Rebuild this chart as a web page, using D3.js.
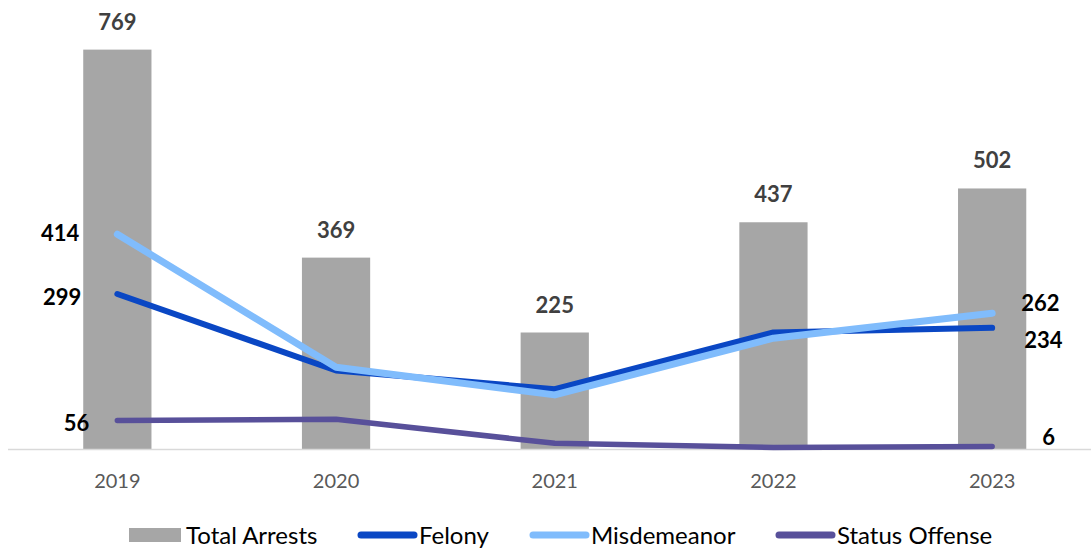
<!DOCTYPE html>
<html>
<head>
<meta charset="utf-8">
<script src="https://cdn.jsdelivr.net/npm/d3@7"></script>
<style>
  body { margin: 0; background: #fff; }
  svg { display: block; font-family: Lato, "Open Sans", sans-serif; }
</style>
</head>
<body>
<svg id="chart" width="1091" height="548"></svg>
<script>
// --- DATA ---
const years = ["2019", "2020", "2021", "2022", "2023"];
const totalArrests = [769, 369, 225, 437, 502];
const felony = [299, 152, 116, 225, 234];
const misdemeanor = [414, 158, 105, 214, 262];
const statusOffense = [56, 58, 12, 4, 6];

// --- CONFIG ---
const W = 1091, H = 548;
const BASE_Y = 449.5;
const COLORS = {
  bar: "#a6a6a6",
  felony: "#0a47c4",
  misd: "#80bcfc",
  status: "#58509a"
};

const svg = d3.select("#chart");

const x = d3.scaleBand().domain(years).range([8, 1101.5])
  .paddingInner(0.688).paddingOuter(0.344);
const y = d3.scaleLinear().domain([0, 800]).range([BASE_Y, BASE_Y - 416]);
const cx = yr => x(yr) + x.bandwidth() / 2;

// bars
svg.append("g").selectAll("rect").data(years).join("rect")
  .attr("x", d => x(d))
  .attr("y", (d, i) => y(totalArrests[i]))
  .attr("width", x.bandwidth())
  .attr("height", (d, i) => BASE_Y - y(totalArrests[i]))
  .attr("fill", COLORS.bar);

// bar labels
svg.append("g").selectAll("text").data(years).join("text")
  .attr("x", d => cx(d))
  .attr("y", (d, i) => y(totalArrests[i]) - 20)
  .attr("text-anchor", "middle")
  .attr("font-size", 22).attr("font-weight", 700).attr("fill", "#404040")
  .text((d, i) => totalArrests[i]);

// x axis
const xAxis = svg.append("g")
  .attr("transform", `translate(0,${BASE_Y})`)
  .call(d3.axisBottom(x).tickSize(0).tickPadding(0));
xAxis.select(".domain").remove();
xAxis.append("line").attr("x1", 8).attr("x2", W).attr("y1", 0).attr("y2", 0)
  .attr("stroke", "#d9d9d9").attr("stroke-width", 1.5);
xAxis.selectAll(".tick text")
  .attr("y", 38).attr("dy", 0)
  .attr("font-family", "Lato, sans-serif")
  .attr("font-size", 20).attr("fill", "#595959");

// lines
const series = [
  { key: "felony", vals: felony, color: COLORS.felony, width: 6 },
  { key: "misd", vals: misdemeanor, color: COLORS.misd, width: 7 },
  { key: "status", vals: statusOffense, color: COLORS.status, width: 5.5 }
];
const line = d3.line().x((d, i) => cx(years[i])).y(d => y(d));
svg.append("g").selectAll("path").data(series).join("path")
  .attr("d", s => line(s.vals))
  .attr("fill", "none")
  .attr("stroke", s => s.color)
  .attr("stroke-width", s => s.width)
  .attr("stroke-linecap", "round")
  .attr("stroke-linejoin", "round");

// end labels for lines (offsets relative to the point)
const endLabels = [
  { vals: misdemeanor, i: 0, dx: -38, dy: 7, anchor: "end" },
  { vals: felony, i: 0, dx: -36, dy: 11, anchor: "end" },
  { vals: statusOffense, i: 0, dx: -28, dy: 11, anchor: "end" },
  { vals: misdemeanor, i: 4, dx: 29, dy: -2, anchor: "start" },
  { vals: felony, i: 4, dx: 32, dy: 20, anchor: "start" },
  { vals: statusOffense, i: 4, dx: 50, dy: -1, anchor: "start" }
];
svg.append("g").selectAll("text").data(endLabels).join("text")
  .attr("x", d => cx(years[d.i]) + d.dx)
  .attr("y", d => y(d.vals[d.i]) + d.dy)
  .attr("text-anchor", d => d.anchor)
  .attr("font-size", 22).attr("font-weight", 700).attr("fill", "#000")
  .text(d => d.vals[d.i]);

// legend
const legendItems = [
  { name: "Total Arrests", color: COLORS.bar, type: "rect", x: 129 },
  { name: "Felony", color: COLORS.felony, type: "line", x: 358 },
  { name: "Misdemeanor", color: COLORS.misd, type: "line", x: 530 },
  { name: "Status Offense", color: COLORS.status, type: "line", x: 776 }
];
const LEG_Y = 535;
const lg = svg.append("g").selectAll("g").data(legendItems).join("g")
  .attr("transform", d => `translate(${d.x},${LEG_Y})`);
lg.filter(d => d.type === "rect").append("rect")
  .attr("x", 0).attr("y", -7).attr("width", 52).attr("height", 14)
  .attr("fill", d => d.color);
lg.filter(d => d.type === "line").append("line")
  .attr("x1", 3).attr("x2", 56).attr("y1", 0).attr("y2", 0)
  .attr("stroke", d => d.color).attr("stroke-width", 7)
  .attr("stroke-linecap", "round");
lg.append("text")
  .attr("x", d => d.type === "rect" ? 57 : 61)
  .attr("y", 8.5)
  .attr("font-size", 24).attr("fill", "#000")
  .text(d => d.name);
</script>
</body>
</html>
